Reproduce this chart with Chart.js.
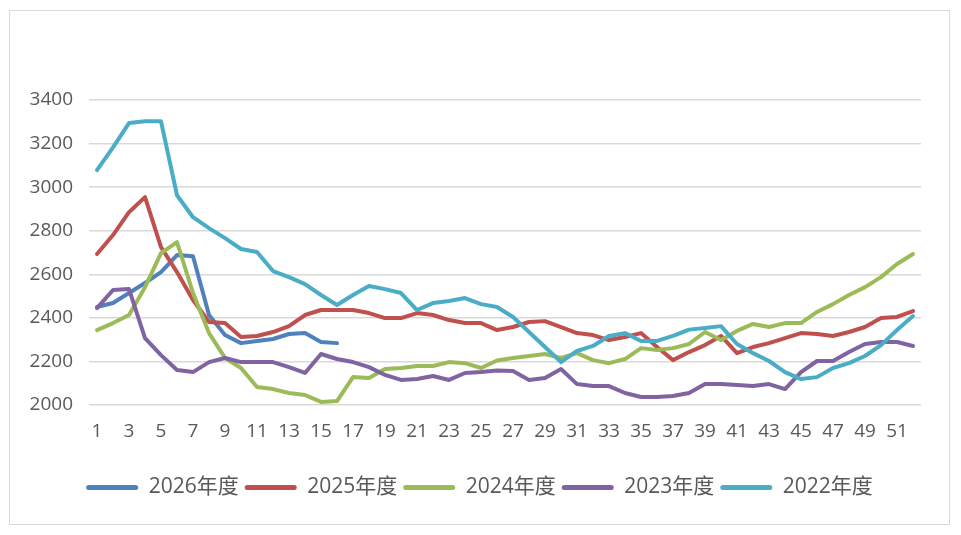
<!DOCTYPE html>
<html lang="zh-CN">
<head>
  <meta charset="UTF-8">
  <title>年度对比</title>
  <script src="https://cdn.jsdelivr.net/npm/chart.js"></script>
  <style>
    html, body { margin: 0; padding: 0; background: #fff; }
    .frame {
      position: absolute;
      left: 9px; top: 10px;
      width: 939px; height: 513px;
      border: 1px solid #d9d9d9;
    }
  </style>
</head>
<body>
  <div class="frame">
    <canvas id="chart" width="939" height="513"></canvas>
  </div>

  <script>
    // 周次
    const weeks = ['1','2','3','4','5','6','7','8','9','10','11','12','13','14','15','16','17','18','19','20',
      '21','22','23','24','25','26','27','28','29','30','31','32','33','34','35','36','37','38','39','40',
      '41','42','43','44','45','46','47','48','49','50','51','52'];

    const yTicks = [2000, 2200, 2400, 2600, 2800, 3000, 3200, 3400];

    const seriesNames = ['2026年度', '2025年度', '2024年度', '2023年度', '2022年度'];

    const y2026 = [2450, 2468, 2514, 2560, 2610, 2688, 2683, 2413, 2321, 2284, 2294, 2303, 2326, 2330, 2289, 2284];

    const y2025 = [2693, 2780, 2885, 2954, 2725, 2610, 2482, 2381, 2376, 2312, 2317, 2335, 2362, 2413, 2436, 2436,
      2436, 2422, 2399, 2399, 2422, 2413, 2390, 2376, 2376, 2344, 2358, 2381, 2385, 2358, 2330, 2321,
      2298, 2312, 2330, 2266, 2206, 2243, 2275, 2317, 2238, 2266, 2284, 2307, 2330, 2326, 2317, 2335,
      2358, 2399, 2404, 2431];

    const y2024 = [2344, 2376, 2413, 2541, 2697, 2748, 2514, 2330, 2216, 2170, 2083, 2073, 2055, 2046, 2014, 2018,
      2128, 2124, 2165, 2170, 2179, 2179, 2197, 2192, 2170, 2204, 2216, 2225, 2234, 2216, 2238, 2206,
      2192, 2211, 2261, 2252, 2261, 2280, 2335, 2298, 2340, 2372, 2358, 2376, 2376, 2427, 2463, 2505,
      2541, 2587, 2647, 2693];

    const y2023 = [2445, 2528, 2532, 2307, 2229, 2161, 2151, 2197, 2216, 2197, 2197, 2197, 2174, 2147, 2234, 2211,
      2197, 2174, 2138, 2115, 2119, 2133, 2115, 2147, 2151, 2158, 2156, 2115, 2124, 2165, 2096, 2087,
      2087, 2055, 2037, 2037, 2041, 2055, 2096, 2096, 2092, 2087, 2096, 2073, 2151, 2202, 2202, 2243,
      2280, 2289, 2289, 2271];

    const y2022 = [3078, 3183, 3294, 3302, 3302, 2963, 2862, 2812, 2766, 2716, 2702, 2615, 2587, 2555, 2505, 2459,
      2505, 2546, 2532, 2514, 2436, 2468, 2477, 2491, 2463, 2450, 2404, 2335, 2266, 2197, 2248, 2271,
      2317, 2330, 2294, 2294, 2317, 2346, 2353, 2362, 2280, 2238, 2202, 2151, 2119, 2128, 2170, 2192,
      2225, 2275, 2344, 2408];

    const colors = ['#4F81BD', '#C0504D', '#9BBB59', '#8064A2', '#4BACC6'];
    const allSeries = [y2026, y2025, y2024, y2023, y2022];

    const textColor = '#595959';
    const fontFamily = '"Open Sans", "Noto Sans CJK SC", sans-serif';

    const datasets = allSeries.map(function(values, i) {
      return {
        label: seriesNames[i],
        data: values,
        borderColor: colors[i],
        backgroundColor: colors[i],
        borderWidth: 4,
        borderCapStyle: 'round',
        borderJoinStyle: 'round',
        pointRadius: 0,
        tension: 0,
        order: allSeries.length - i   // 后面的系列画在上面
      };
    });

    // 图例横跨整个画布居中（不受右侧 padding 影响）
    const legendFullWidth = {
      id: 'legendFullWidth',
      afterLayout: function(chart) {
        if (chart.legend) {
          chart.legend.left = 0;
          chart.legend.right = chart.width;
          chart.legend.width = chart.width;
        }
      }
    };

    new Chart(document.getElementById('chart'), {
      type: 'line',
      data: { labels: weeks, datasets: datasets },
      plugins: [legendFullWidth],
      options: {
        responsive: false,
        animation: false,
        layout: { padding: { left: 0, right: 28, top: 89, bottom: 16 } },
        plugins: {
          tooltip: { enabled: false },
          legend: {
            position: 'bottom',
            labels: {
              color: textColor,
              font: { family: fontFamily, size: 21 },
              boxWidth: 52,
              boxHeight: 5,
              padding: 6,
              useBorderRadius: true,
              borderRadius: 2.5,
              sort: function(a, b) { return a.datasetIndex - b.datasetIndex; },
              generateLabels: function(chart) {
                const items = Chart.defaults.plugins.legend.labels.generateLabels(chart);
                items.forEach(function(it) {
                  it.fillStyle = it.strokeStyle;
                  it.lineWidth = 0;
                });
                return items;
              }
            }
          }
        },
        scales: {
          x: {
            offset: true,
            grid: { display: false },
            border: { display: false },
            afterFit: function(scale) { scale.height = 66; },
            ticks: {
              autoSkip: false,
              maxRotation: 0,
              color: textColor,
              font: { family: fontFamily, size: 19 },
              padding: 7,
              callback: function(value, index) {
                return index % 2 === 0 ? weeks[index] : '';
              }
            }
          },
          y: {
            min: yTicks[0],
            max: yTicks[yTicks.length - 1],
            afterFit: function(scale) { scale.width = 79; },
            afterBuildTicks: function(scale) {
              scale.ticks = yTicks.map(function(v) { return { value: v }; });
            },
            grid: { color: '#d9d9d9', lineWidth: 1.5, drawTicks: false },
            border: { display: false },
            ticks: {
              color: textColor,
              font: { family: fontFamily, size: 19 },
              padding: 16,
              callback: function(value) { return String(value); }
            }
          }
        }
      }
    });
  </script>
</body>
</html>
